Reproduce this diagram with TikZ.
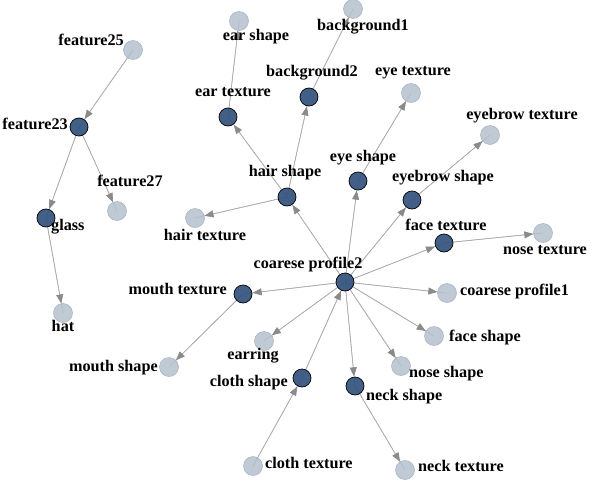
\documentclass[tikz,border=0pt]{standalone}
\usepackage{fontspec}
\setmainfont{Liberation Serif}
\usetikzlibrary{arrows.meta}
\definecolor{darkn}{HTML}{34547E}
\definecolor{lightn}{HTML}{B2BECC}
\definecolor{lightb}{HTML}{A4B1C1}
\definecolor{edgec}{HTML}{ABABAB}
\definecolor{tipc}{HTML}{8A8A8A}
\tikzset{
  dk/.style={circle,draw=black,line width=0.7pt,fill=darkn,fill opacity=0.93,minimum size=18pt,inner sep=0pt},
  lt/.style={circle,draw=lightb,line width=0.5pt,fill=lightn,fill opacity=0.82,minimum size=19pt,inner sep=0pt},
  ln/.style={draw=edgec,line width=0.6pt},
  tp/.style={draw=edgec,line width=0.6pt,-{Triangle[length=9pt,width=7pt,color=tipc]}},
  lab/.style={font=\bfseries\fontsize{16.2}{17}\selectfont,inner sep=0pt,text height=1.4ex,text depth=0.1ex}
}
\newcommand\edg[2]{\draw[ln] (#1) -- (#2); \draw[tp] (#1) -- (#2);}
\begin{document}
\begin{tikzpicture}[x=1pt,y=-1pt]
\useasboundingbox (0,0) rectangle (592,482);
% node positions
\coordinate (f25) at (133,50);
\coordinate (f23) at (79,127);
\coordinate (f27) at (117,211);
\coordinate (glass) at (46,218);
\coordinate (hat) at (63,313);
\coordinate (earS) at (239,21);
\coordinate (earT) at (228,117);
\coordinate (hairS) at (287,197);
\coordinate (hairT) at (195,218);
\coordinate (bg1) at (353,9);
\coordinate (bg2) at (309,97);
\coordinate (eyeT) at (411,93);
\coordinate (eyeS) at (358,181);
\coordinate (browT) at (490,135);
\coordinate (browS) at (412,200);
\coordinate (faceT) at (444,243);
\coordinate (noseT) at (543,233);
\coordinate (cp2) at (345,282);
\coordinate (cp1) at (447,293);
\coordinate (faceS) at (434,336);
\coordinate (noseS) at (401,366);
\coordinate (neckS) at (355,386);
\coordinate (neckT) at (405,470);
\coordinate (clothS) at (302,378);
\coordinate (clothT) at (253,466);
\coordinate (mouthT) at (243,294);
\coordinate (mouthS) at (169,367);
\coordinate (earring) at (264,341);
% invisible boundary circles for arrow ends
\tikzset{bnd/.style={circle,minimum size=19pt,inner sep=0pt}}
\foreach \n in {f25,f23,f27,glass,hat,earS,earT,hairS,hairT,bg1,bg2,eyeT,eyeS,browT,browS,faceT,noseT,cp2,cp1,faceS,noseS,neckS,neckT,clothS,clothT,mouthT,mouthS,earring}
  \node[bnd] (b\n) at (\n) {};
% edges: line centre to centre, arrow tip at the target circle
\newcommand\edgx[2]{\draw[ln] (#1) -- (#2); \draw[tp] (#1) -- (b#2);}
\edgx{f25}{f23}
\edgx{f23}{glass}
\edgx{f23}{f27}
\edgx{glass}{hat}
\edgx{earT}{earS}
\edgx{hairS}{earT}
\edgx{hairS}{bg2}
\edgx{bg2}{bg1}
\edgx{hairS}{hairT}
\edgx{cp2}{hairS}
\edgx{cp2}{eyeS}
\edgx{eyeS}{eyeT}
\edgx{cp2}{browS}
\edgx{browS}{browT}
\edgx{cp2}{faceT}
\edgx{faceT}{noseT}
\edgx{cp2}{cp1}
\edgx{cp2}{faceS}
\edgx{cp2}{noseS}
\edgx{cp2}{neckS}
\edgx{neckS}{neckT}
\edgx{clothS}{cp2}
\edgx{clothT}{clothS}
\edgx{cp2}{mouthT}
\edgx{mouthT}{mouthS}
\edgx{cp2}{earring}
% nodes drawn over the lines
\foreach \n in {f23,glass,earT,hairS,bg2,eyeS,browS,faceT,cp2,neckS,clothS,mouthT}
  \node[dk] at (\n) {};
\foreach \n in {f25,f27,hat,earS,hairT,bg1,eyeT,browT,noseT,cp1,faceS,noseS,neckT,clothT,mouthS,earring}
  \node[lt] at (\n) {};
% labels
\node[lab,anchor=east] (lf25) at (124,43) {feature25};
\node[lab,anchor=east] (lf23) at (68,127) {feature23};
\node[lab] (lf27) at (130,184) {feature27};
\node[lab,anchor=west] (lglass) at (51,228) {glass};
\node[lab] (lhat) at (63,329) {hat};
\node[lab] (learS) at (256,38) {ear shape};
\node[lab] (learT) at (233,94) {ear texture};
\node[lab] (lhairS) at (285,174) {hair shape};
\node[lab] (lhairT) at (205,238) {hair texture};
\node[lab] (lbg1) at (363,28) {background1};
\node[lab] (lbg2) at (312,74) {background2};
\node[lab] (leyeT) at (413,73) {eye texture};
\node[lab] (lbrowT) at (522,117) {eyebrow texture};
\node[lab] (leyeS) at (363,159) {eye shape};
\node[lab] (lbrowS) at (443,179) {eyebrow shape};
\node[lab] (lfaceT) at (446,228) {face texture};
\node[lab] (lnoseT) at (545,252) {nose texture};
\node[lab] (lcp2) at (308,266) {coarese profile2};
\node[lab,anchor=west] (lcp1) at (460,293) {coarese profile1};
\node[lab,anchor=west] (lfaceS) at (449,339) {face shape};
\node[lab,anchor=west] (lnoseS) at (409,375) {nose shape};
\node[lab,anchor=west] (lneckS) at (366,398) {neck shape};
\node[lab,anchor=west] (lneckT) at (418,469) {neck texture};
\node[lab,anchor=east] (lclothS) at (288,384) {cloth shape};
\node[lab,anchor=west] (lclothT) at (265,466) {cloth texture};
\node[lab,anchor=east] (lmouthT) at (227,292) {mouth texture};
\node[lab,anchor=east] (lmouthS) at (158,369) {mouth shape};
\node[lab] (learring) at (253,357) {earring};
\end{tikzpicture}
\end{document}
